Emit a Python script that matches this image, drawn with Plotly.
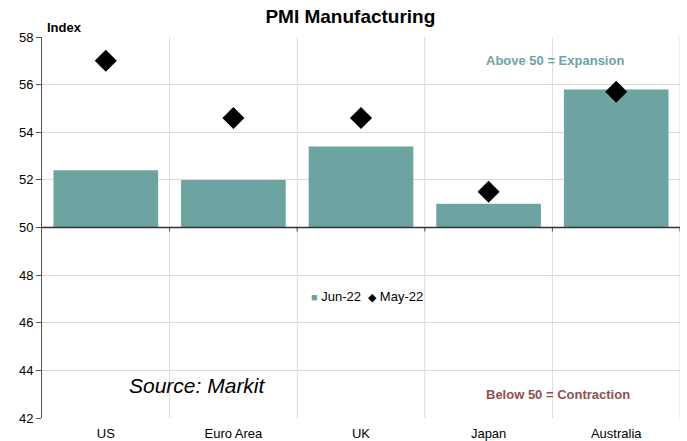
import plotly.graph_objects as go

# PMI manufacturing readings by economy
countries = ["US", "Euro Area", "UK", "Japan", "Australia"]
jun_22 = [52.4, 52.0, 53.4, 51.0, 55.8]
may_22 = [57.0, 54.6, 54.6, 51.5, 55.7]
y_ticks = [42, 44, 46, 48, 50, 52, 54, 56, 58]
baseline = 50

BAR = "#6BA4A1"
FONT = "Liberation Sans, Arial, sans-serif"
pos = list(range(len(countries)))

fig = go.Figure()
fig.add_trace(go.Bar(
    x=pos, y=[v - baseline for v in jun_22], base=baseline,
    name="Jun-22", marker=dict(color=BAR, line=dict(width=0)),
    width=0.82, showlegend=False,
))
fig.add_trace(go.Scatter(
    x=pos, y=may_22, mode="markers", name="May-22",
    marker=dict(symbol="diamond", size=17, color="black"), showlegend=False,
))

# category separators and the 50 line
shapes = []
for b in [i + 0.5 for i in range(len(countries))]:
    shapes.append(dict(type="line", xref="x", yref="paper", x0=b, x1=b, y0=0, y1=1,
                       line=dict(color="#DADADA", width=1), layer="below"))
    shapes.append(dict(type="line", xref="x", yref="y", x0=b, x1=b,
                       y0=baseline, y1=baseline - 0.17,
                       line=dict(color="#555555", width=1)))
shapes.append(dict(type="line", xref="paper", yref="y", x0=0, x1=1,
                   y0=baseline, y1=baseline, line=dict(color="#333333", width=1.5)))

legend_text = (f"<span style='color:{BAR};font-size:11px'>■</span> Jun-22  "
               "<span style='font-size:11px'>◆</span> May-22")

fig.update_layout(
    width=687, height=441,
    margin=dict(l=42, r=7, t=37, b=23),
    paper_bgcolor="white", plot_bgcolor="white",
    font=dict(family=FONT, size=13, color="black"),
    title=dict(text="<b>PMI Manufacturing</b>", x=0.51, xanchor="center",
               y=0.962, yanchor="middle", font=dict(size=19, family=FONT)),
    showlegend=False,
    xaxis=dict(range=[-0.5, len(countries) - 0.5], tickvals=pos, ticktext=countries,
               showgrid=False, zeroline=False, showline=False, ticks="",
               tickfont=dict(size=13), ticklabelstandoff=6, automargin=False),
    yaxis=dict(range=[42, 58], tickvals=y_ticks, showgrid=True, gridcolor="#DADADA",
               zeroline=False, showline=True, linecolor="#555555", linewidth=1,
               ticks="outside", ticklen=5, tickcolor="#555555",
               tickfont=dict(size=13), automargin=False),
    shapes=shapes,
    annotations=[
        dict(text="<b>Index</b>", xref="paper", yref="paper", x=0.005, y=1.0,
             xanchor="left", yanchor="bottom", showarrow=False, font=dict(size=13)),
        dict(text=legend_text, xref="paper", yref="paper", x=0.418, y=0.318,
             xanchor="left", yanchor="middle", showarrow=False, font=dict(size=13)),
        dict(text="<b>Above 50 = Expansion</b>", xref="x", yref="y", x=3.52, y=57.0,
             showarrow=False, font=dict(size=13, color=BAR)),
        dict(text="<b>Below 50 = Contraction</b>", xref="x", yref="y", x=3.54, y=43.0,
             showarrow=False, font=dict(size=13, color="#8E514F")),
        dict(text="<i>Source: Markit</i>", xref="x", yref="y", x=0.72, y=43.35,
             showarrow=False, font=dict(size=21, color="black")),
    ],
)

fig.write_html("out.html")
